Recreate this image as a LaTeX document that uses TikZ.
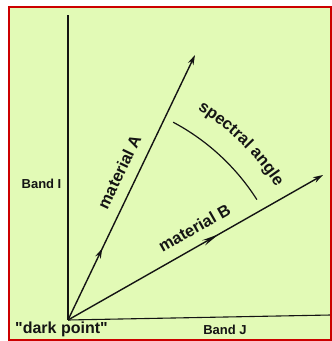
\documentclass[tikz,border=0pt]{standalone}
\usepackage{fontspec}
\setmainfont{Liberation Sans}
\newfontfamily\plainsans{Liberation Sans}
\usetikzlibrary{arrows.meta,decorations.markings,decorations.text}
\definecolor{bgcol}{RGB}{226,250,182}
\definecolor{framecol}{RGB}{204,0,0}
\definecolor{ink}{RGB}{20,20,20}
\begin{document}
\begin{tikzpicture}[x=1pt,y=1pt,
  vec/.style={draw=ink, line width=1.4pt, -{Stealth[length=10pt,width=6pt]}},
  axisline/.style={draw=ink, line width=1.1pt},
  lbl/.style={font=\fontsize{16.5}{16.5}\selectfont\bfseries, text=ink, inner sep=0pt},
  bandlbl/.style={font=\fontsize{13}{13}\selectfont\bfseries, text=ink, inner sep=0pt}]
\useasboundingbox (0,0) rectangle (332,341);
\fill[white] (0,0) rectangle (332,341);
\fill[bgcol] (8.5,1) rectangle (331,333.5);
\coordinate (O) at (68,21);
\coordinate (Itop) at (68,326);
\coordinate (Jend) at (331,26);
\coordinate (A) at (195,286);
\coordinate (B) at (323,166);
\draw[axisline] (O) -- (Itop);
\draw[axisline] (O) -- (Jend);
\draw[vec, postaction={decorate}, decoration={markings, mark=at position 0.27 with {\arrow{Stealth[length=10pt,width=6pt]}}}]
  (O) -- (A) node[lbl, pos=0.53, sloped, above=11pt] {material A};
\draw[vec, postaction={decorate}, decoration={markings, mark=at position 0.59 with {\arrow{Stealth[length=17pt,width=6pt]}}}]
  (O) -- (B) node[lbl, pos=0.53, sloped, above=11pt] {material B};
\draw[ink, line width=1.2pt] (O) ++(62:224) arc[start angle=62, end angle=32.5, radius=224];
\path[decorate, decoration={text along path, text align=center,
  text={|\fontsize{16.5}{16.5}\selectfont\bfseries\color{ink}|spectral angle}}]
  (O) ++(62:247) arc[start angle=62, end angle=29, radius=247];
\node[bandlbl, anchor=base] (bandI) at (41.5,153) {Band I};
\node[bandlbl, anchor=base] (bandJ) at (225,6) {Band J};
\node[lbl, font=\plainsans\fontsize{16}{16}\selectfont\bfseries, anchor=base west] (dark) at (15,8) {"dark point"};
\draw[framecol, line width=2pt] (8.5,1) rectangle (331,333.5);
\end{tikzpicture}
\end{document}
